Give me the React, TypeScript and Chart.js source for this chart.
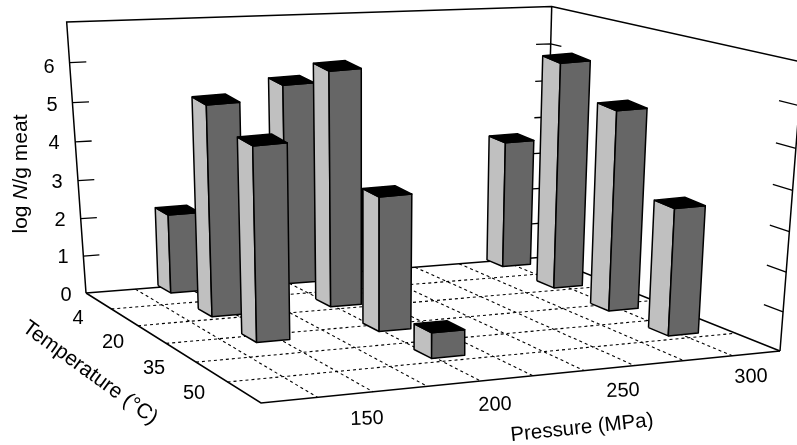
import React, { useEffect, useRef } from "react";
import { Chart, registerables } from "chart.js";

Chart.register(...registerables);

// ---- data
const pressures = [150, 200, 250, 300];
const temperatures = [4, 20, 35, 50];
const logT4 = [2.1, 5.35, null, 3.5];
const logT20 = [5.4, 6.1, null, 6.05];
const logT35 = [4.85, 3.42, null, 5.23];
const logT50 = [null, 0.64, null, 3.25];
const logRows = [logT4, logT20, logT35, logT50];
const zTicks = [0, 1, 2, 3, 4, 5, 6];

// ---- layout of the perspective box
const W = 797, H = 445;
const L = [86, 293], B = [545, 257], R = [780, 351], F = [261, 403];
const TL = [69, 26], TB = [545, 8], TR = [808, 56];
const BAR_TL = [73, 26], BAR_TB = [552, 8], BAR_TR = [800, 56];
const Z_MAX = 7;
const U0 = 0.184, DU = 0.24, HALF_U = 0.032;
const V0 = 0.023, DV = 0.247, HALF_V = 0.04;
const TOP_GROW = 0.008;
const GRID_U = 10, GRID_V = 6;

const FONT = '"Liberation Sans", Arial, sans-serif';
const zLabelPos = [[66, 295], [63, 257], [60, 220], [57, 182], [54, 143], [52, 105], [49, 67]];
const tLabelPos = [[78, 318], [113, 342], [154, 368], [194, 393]];
const pLabelPos = [[367, 419], [495, 405], [623, 391], [751, 377]];

// ---- projective mapping (u, v, z) -> pixel
function buildProjection(tl: number[], tb: number[], tr: number[]) {
  const dx1 = B[0] - R[0], dx2 = F[0] - R[0], sx = L[0] - B[0] + R[0] - F[0];
  const dy1 = B[1] - R[1], dy2 = F[1] - R[1], sy = L[1] - B[1] + R[1] - F[1];
  const den = dx1 * dy2 - dx2 * dy1;
  const g = (sx * dy2 - dx2 * sy) / den;
  const h = (dx1 * sy - sx * dy1) / den;
  const a = B[0] - L[0] + g * B[0], b = F[0] - L[0] + h * F[0], c = L[0];
  const d = B[1] - L[1] + g * B[1], e = F[1] - L[1] + h * F[1], f = L[1];
  const floor = (u: number, v: number) => [a * u + b * v + c, d * u + e * v + f, g * u + h * v + 1];
  // least squares for the z column from the three top corners
  const eqs: number[][] = [];
  const add = (u: number, v: number, p: number[]) => {
    const [X, Y, Q] = floor(u, v);
    eqs.push([1, 0, -p[0], p[0] * Q - X]);
    eqs.push([0, 1, -p[1], p[1] * Q - Y]);
  };
  add(0, 0, tl); add(1, 0, tb); add(1, 1, tr);
  const m = [0, 1, 2].map((i) => [0, 1, 2, 3].map((j) => eqs.reduce((s, q) => s + q[i] * q[j], 0)));
  for (let i = 0; i < 3; i++) {
    for (let r = 0; r < 3; r++) {
      if (r === i) continue;
      const k = m[r][i] / m[i][i];
      for (let j = 0; j < 4; j++) m[r][j] -= k * m[i][j];
    }
  }
  const cz = [m[0][3] / m[0][0], m[1][3] / m[1][1], m[2][3] / m[2][2]];
  return (u: number, v: number, z: number) => {
    const [X, Y, Q] = floor(u, v);
    const t = z / Z_MAX;
    const q = Q + cz[2] * t;
    return { x: (X + cz[0] * t) / q, y: (Y + cz[1] * t) / q };
  };
}

function buildDatasets() {
  const P = buildProjection(TL, TB, TR);
  const PB = buildProjection(BAR_TL, BAR_TB, BAR_TR);
  const out: any[] = [];
  const seg = (pts: { x: number; y: number }[], width: number, dash: number[] = []) =>
    out.push({ data: pts, showLine: true, fill: false, borderColor: "#000", borderWidth: width, borderDash: dash, pointRadius: 0 });
  const poly = (pts: { x: number; y: number }[], color: string) =>
    out.push({ data: [...pts, pts[0]], showLine: true, fill: "shape", backgroundColor: color, borderColor: "#000", borderWidth: 1.5, pointRadius: 0, borderJoinStyle: "round" });

  // dashed floor grid
  for (let i = 1; i < GRID_U; i++) seg([P(i / GRID_U, 0, 0), P(i / GRID_U, 1, 0)], 1.1, [3, 3]);
  for (let j = 1; j < GRID_V; j++) seg([P(0, j / GRID_V, 0), P(1, j / GRID_V, 0)], 1.1, [3, 3]);
  // box frame
  seg([P(0, 0, 0), P(0, 1, 0), P(1, 1, 0)], 1.5);
  seg([P(0, 0, 0), P(1, 0, 0), P(1, 1, 0)], 1.5);
  seg([P(0, 0, 0), P(0, 0, Z_MAX), P(1, 0, Z_MAX), P(1, 1, Z_MAX), P(1, 1, 0)], 1.5);
  seg([P(1, 0, 0), P(1, 0, Z_MAX)], 1.5);
  // height ticks on the three vertical edges
  zTicks.forEach((z) => {
    if (z > 0) {
      seg([P(0, 0, z), P(0.032, 0, z)], 1.3);
      seg([P(0.967, 0, z), P(1, 0, z), P(1, 0.05, z)], 1.3);
      seg([P(1, 1, z), P(1, 0.93, z)], 1.3);
    }
  });
  // bars, back to front
  const order: number[][] = [];
  temperatures.forEach((_, j) => pressures.forEach((_, i) => order.push([i, j])));
  order.sort((p, q) => p[1] - p[0] - (q[1] - q[0]));
  order.forEach(([i, j]) => {
    const z = logRows[j][i];
    if (z === null) return;
    const u = U0 + i * DU, v = V0 + j * DV;
    const u0 = u - HALF_U, u1 = u + HALF_U, v0 = v - HALF_V, v1 = v + HALF_V;
    const c0 = PB(u, v, 0);
    // footprint carried up the bar's own axis, growing slightly with height
    const at = (ui: number, vi: number, zi: number) => {
      const base = PB(ui, vi, 0), centre = PB(u, v, zi);
      const s = 1 + TOP_GROW * zi;
      return { x: centre.x + s * (base.x - c0.x), y: centre.y + s * (base.y - c0.y) };
    };
    poly([at(u0, v0, 0), at(u0, v1, 0), at(u0, v1, z), at(u0, v0, z)], "#c0c0c0");
    poly([at(u0, v1, 0), at(u1, v1, 0), at(u1, v1, z), at(u0, v1, z)], "#666666");
    poly([at(u0, v0, z), at(u0, v1, z), at(u1, v1, z), at(u1, v0, z)], "#000000");
  });
  out.forEach((d, n) => (d.order = out.length - n));
  return out;
}

const textPlugin = {
  id: "boxText",
  afterDraw(chart: any) {
    const ctx = chart.ctx;
    const sx = chart.scales.x, sy = chart.scales.y;
    const put = (t: string, p: number[], size = 20, rot = 0) => {
      ctx.save();
      ctx.translate(sx.getPixelForValue(p[0]), sy.getPixelForValue(p[1]));
      ctx.rotate((rot * Math.PI) / 180);
      ctx.font = `${size}px ${FONT}`;
      ctx.fillStyle = "#000";
      ctx.textAlign = "center";
      ctx.textBaseline = "middle";
      ctx.fillText(t, 0, 0);
      ctx.restore();
    };
    zTicks.forEach((z, n) => put(String(z), zLabelPos[n]));
    temperatures.forEach((t, n) => put(String(t), tLabelPos[n]));
    pressures.forEach((p, n) => put(String(p), pLabelPos[n], 20, -2));
    put("Temperature (°C)", [90, 373], 21, 36);
    put("Pressure (MPa)", [582, 428], 20.5, -6);
    // y title with italic N
    ctx.save();
    ctx.translate(sx.getPixelForValue(21), sy.getPixelForValue(174));
    ctx.rotate(-Math.PI / 2);
    ctx.textBaseline = "middle";
    ctx.fillStyle = "#000";
    const parts: [string, string][] = [["log ", "normal"], ["N", "italic"], ["/g meat", "normal"]];
    const fontOf = (s: string) => `${s} 21px ${FONT}`;
    let total = 0;
    parts.forEach(([t, s]) => { ctx.font = fontOf(s); total += ctx.measureText(t).width; });
    let x = -total / 2;
    parts.forEach(([t, s]) => { ctx.font = fontOf(s); ctx.fillText(t, x, 0); x += ctx.measureText(t).width; });
    ctx.restore();
  },
};

export default function App() {
  const ref = useRef<HTMLCanvasElement>(null);
  useEffect(() => {
    document.body.style.margin = "0";
    const chart = new Chart(ref.current as HTMLCanvasElement, {
      type: "scatter",
      data: { datasets: buildDatasets() },
      options: {
        responsive: false,
        animation: false,
        layout: { padding: 0 },
        scales: {
          x: { type: "linear", min: 0, max: W, display: false },
          y: { type: "linear", min: 0, max: H, reverse: true, display: false },
        },
        plugins: { legend: { display: false }, tooltip: { enabled: false } },
      },
      plugins: [textPlugin],
    } as any);
    return () => chart.destroy();
  }, []);
  return <canvas ref={ref} width={W} height={H} style={{ display: "block" }} />;
}
